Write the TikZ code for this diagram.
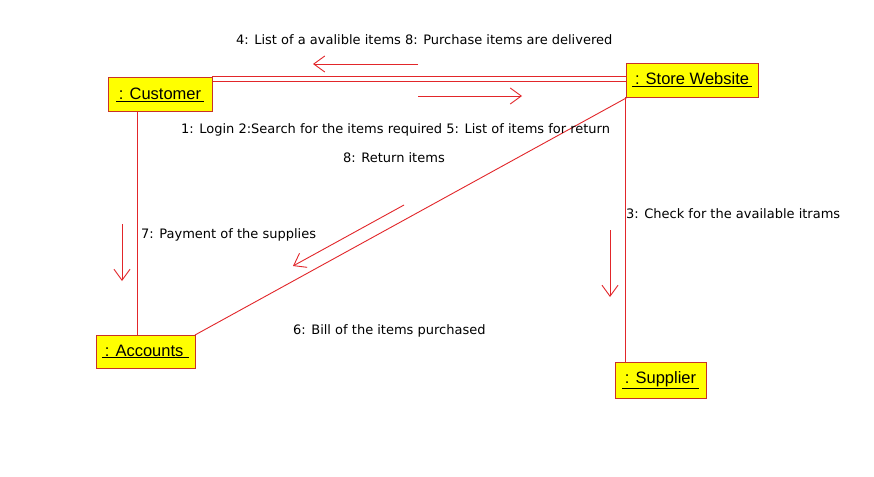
\documentclass[tikz,border=0pt]{standalone}
\usepackage{fontspec}
\setmainfont{Liberation Sans}
\newfontfamily\lblfont{DejaVu Sans}
\usetikzlibrary{arrows.meta}
\definecolor{lnred}{RGB}{226,38,42}
\definecolor{bxred}{RGB}{200,50,40}
\definecolor{bxfill}{RGB}{255,255,0}
\tikzset{
  obj/.style={draw=bxred, fill=bxfill, line width=0.9pt, inner sep=0pt, font=\fontsize{16.5}{18}\selectfont},
  link/.style={draw=lnred, line width=0.9pt},
  msgarrow/.style={draw=lnred, line width=0.9pt, -{Straight Barb[length=11pt,width=16pt]}},
  lbl/.style={anchor=west, inner sep=0pt, font=\lblfont\fontsize{13}{15}\selectfont},
}
\begin{document}
\begin{tikzpicture}[x=1pt,y=-1pt]
\useasboundingbox (0,0) rectangle (874,476);
\fill[white] (0,0) rectangle (874,476);
% links
\coordinate (c1a) at (212,76);
\coordinate (s1a) at (626,76);
\coordinate (c1b) at (212,81);
\coordinate (s1b) at (626,81);
\draw[link] (c1a) -- (s1a);
\draw[link] (c1b) -- (s1b);
\coordinate (cv1) at (137,111);
\coordinate (av1) at (137,335);
\draw[link] (cv1) -- (av1);
\coordinate (sd1) at (628,97);
\coordinate (ad1) at (195,335);
\draw[link] (sd1) -- (ad1);
\coordinate (sv1) at (625,97);
\coordinate (pv1) at (625,362);
\draw[link] (sv1) -- (pv1);
% objects
\node[obj, minimum width=104pt, minimum height=34pt] (cust) at (160,94.5) {\underline{\,: Customer\,}};
\node[obj, minimum width=132pt, minimum height=34pt] (store) at (692,80) {\underline{\,: Store Website\,}};
\node[obj, minimum width=99pt, minimum height=33pt] (acc) at (145.5,351.5) {\underline{\,: Accounts\,\,}};
\node[obj, minimum width=91pt, minimum height=36pt] (sup) at (660.5,380) {\underline{\,: Supplier\,}};
% message arrows
\coordinate (m4s) at (418,64);
\coordinate (m4e) at (313,64);
\draw[msgarrow] (m4s) -- (m4e);
\coordinate (m1s) at (418,96);
\coordinate (m1e) at (522,96);
\draw[msgarrow] (m1s) -- (m1e);
\coordinate (m7s) at (122,224);
\coordinate (m7e) at (122,281);
\draw[msgarrow] (m7s) -- (m7e);
\coordinate (m6s) at (404,205);
\coordinate (m6e) at (293,266);
\draw[msgarrow] (m6s) -- (m6e);
\coordinate (m3s) at (610,230);
\coordinate (m3e) at (610,297);
\draw[msgarrow] (m3s) -- (m3e);
% labels
\node[lbl] (l4) at (236,40) {4: List of a avalible items 8: Purchase items are delivered};
\node[lbl] (l1) at (181,130) {1: Login 2:Search for the items required 5: List of items for return};
\node[lbl] (l8) at (343,158) {8: Return items};
\node[lbl] (l3) at (626,214) {3: Check for the available itrams};
\node[lbl] (l7) at (141,235) {7: Payment of the supplies};
\node[lbl] (l6) at (293,331) {6: Bill of the items purchased};
\end{tikzpicture}
\end{document}
